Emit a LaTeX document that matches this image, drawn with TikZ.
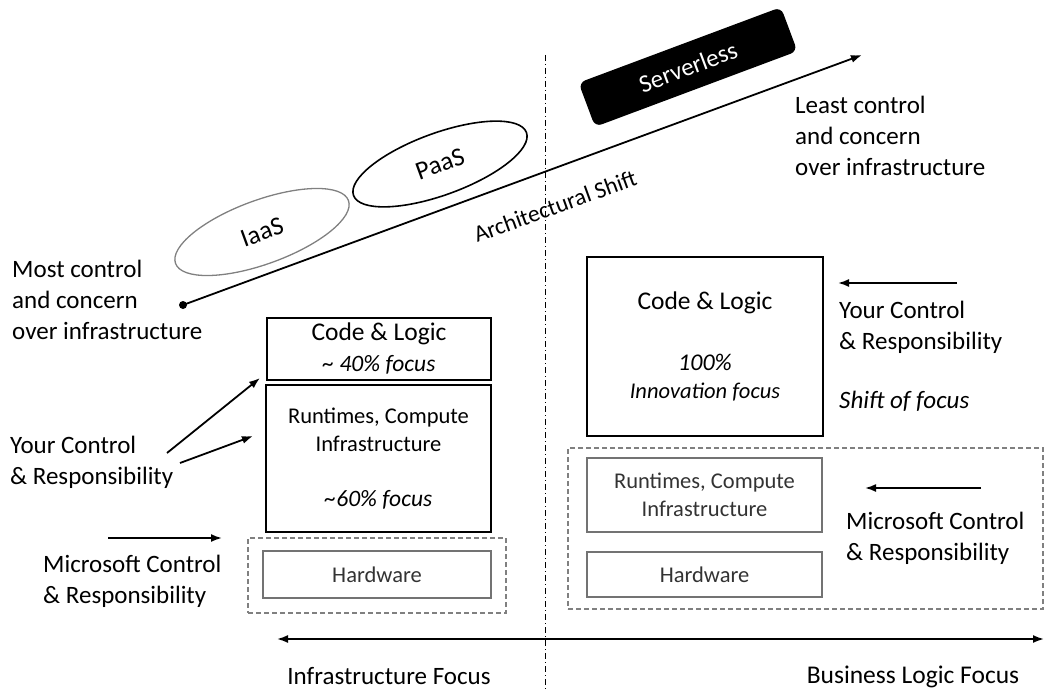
\documentclass[tikz,border=0pt]{standalone}
\usepackage{fontspec}
\setmainfont{Carlito}
\usetikzlibrary{shapes.geometric,arrows.meta}

\tikzset{
  lbl/.style={anchor=north west, align=left, inner sep=0pt,
    font=\fontsize{25}{31}\selectfont},
  blkbox/.style={draw, line width=1.6pt, align=center, inner sep=0pt,
    font=\fontsize{22.5}{28}\selectfont},
  grybox/.style={draw=black!55, line width=1.3pt, align=center, inner sep=0pt,
    text=black!80, font=\fontsize{22.5}{28}\selectfont},
  dashbox/.style={draw=black!50, line width=1.3pt, dash pattern=on 5pt off 3pt,
    inner sep=0pt},
  arr/.style={line width=1.8pt, -{Latex[length=11pt,width=8pt]}},
}

\begin{document}
\begin{tikzpicture}[x=1pt,y=-1pt]
\useasboundingbox (0,0) rectangle (1045,690);

% Divider between the two halves
\coordinate (divtop) at (545,55);
\coordinate (divbot) at (545,690);
\draw[line width=1pt, dash pattern=on 6pt off 3pt on 1pt off 3pt] (divtop) -- (divbot);

% Architectural shift arrow
\coordinate (shiftstart) at (183,305);
\coordinate (shiftend) at (862,55);
\fill (shiftstart) circle (4);
\draw[arr] (shiftstart) -- (shiftend);
\node[rotate=20, font=\fontsize{23.5}{26}\selectfont] (archshift) at (555,206) {Architectural Shift};

% Service models
\node[ellipse, draw=black!50, line width=1.3pt, minimum width=184, minimum height=64,
  rotate=20, font=\fontsize{26}{28}\selectfont] (iaas) at (262,232) {IaaS};
\node[ellipse, draw, line width=1.6pt, minimum width=184, minimum height=62,
  rotate=20, font=\fontsize{26}{28}\selectfont] (paas) at (440,164) {PaaS};
\node[rounded corners=7pt, fill=black, text=white, minimum width=216, minimum height=47,
  rotate=20.5, font=\fontsize{25}{28}\selectfont] (serverless) at (688,67) {Serverless};

% End labels of the shift
\node[lbl] (mostctl) at (12,260) {Most control\\and concern\\over infrastructure};
\node[lbl] (leastctl) at (795,96) {Least control\\and concern\\over infrastructure};

% Left stack (IaaS / PaaS)
\node[blkbox, minimum width=224, minimum height=62] (lcode) at (379,349)
  {\fontsize{25.5}{30}\selectfont Code \& Logic\\[3pt]\fontsize{23.5}{28}\selectfont\textit{\textasciitilde\ 40\% focus}};
\node[blkbox, minimum width=225, minimum height=147] (lruntime) at (378.5,458.5)
  {Runtimes, Compute\\Infrastructure\\[27pt]\fontsize{23.5}{28}\selectfont\textit{\textasciitilde 60\% focus}};
\node[dashbox, minimum width=258, minimum height=75] (ldash) at (377,575.5) {};
\node[grybox, minimum width=228, minimum height=47] (lhw) at (377,574.5) {Hardware};

% Left responsibility labels
\node[lbl] (lyour) at (10,436) {Your Control\\\& Responsibility};
\coordinate (lyoura) at (167,453);
\coordinate (lyourb) at (180,463);
\coordinate (lcodein) at (260,378);
\coordinate (lrunin) at (253,436);
\draw[arr] (lyoura) -- (lcodein);
\draw[arr] (lyourb) -- (lrunin);
\node[lbl] (lms) at (43,555) {Microsoft Control\\\& Responsibility};
\coordinate (lmsa) at (108,538);
\coordinate (lmsb) at (222,538);
\draw[arr] (lmsa) -- (lmsb);

% Right stack (Serverless)
\node[blkbox, minimum width=236, minimum height=179] (rcode) at (705,346.5)
  {\fontsize{25.5}{29}\selectfont Code \& Logic\\[33pt]\fontsize{24}{28}\selectfont\textit{100\%}\\\textit{Innovation focus}};
\node[dashbox, minimum width=475, minimum height=161] (rdash) at (805.5,528.5) {};
\node[grybox, minimum width=235, minimum height=74] (rruntime) at (704.5,495)
  {Runtimes, Compute\\Infrastructure};
\node[grybox, minimum width=235, minimum height=45] (rhw) at (704.5,574.5) {Hardware};

% Right responsibility labels
\coordinate (ryoura) at (957,283);
\coordinate (ryourb) at (838,283);
\draw[arr] (ryoura) -- (ryourb);
\node[lbl] (ryour) at (839,301) {Your Control\\\& Responsibility};
\node[lbl, font=\fontsize{25}{31}\selectfont\itshape] (shiftfocus) at (839,391) {Shift of focus};
\coordinate (rmsa) at (981,488);
\coordinate (rmsb) at (865,488);
\draw[arr] (rmsa) -- (rmsb);
\node[lbl] (rms) at (846,512) {Microsoft Control\\\& Responsibility};

% Focus axis
\coordinate (axl) at (277,639);
\coordinate (axr) at (1044,639);
\draw[line width=1.8pt, {Latex[length=11pt,width=8pt]}-{Latex[length=11pt,width=8pt]}] (axl) -- (axr);
\node[font=\fontsize{25}{28}\selectfont] (infrafocus) at (389,676) {Infrastructure Focus};
\node[font=\fontsize{25.5}{28}\selectfont] (bizfocus) at (913,677) {Business Logic Focus};
\end{tikzpicture}
\end{document}
